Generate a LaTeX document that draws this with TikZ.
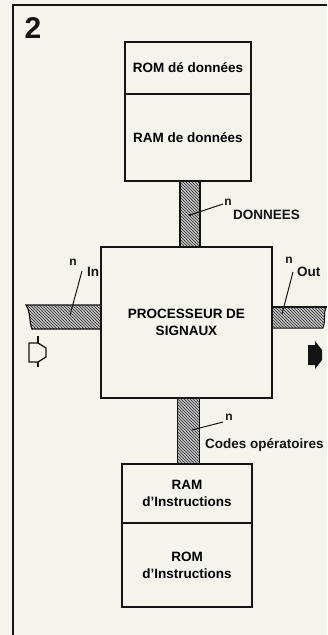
\documentclass[tikz,border=0pt]{standalone}
\usepackage{fontspec}
\setmainfont{Liberation Sans}
\usetikzlibrary{patterns}
\definecolor{paper}{RGB}{244,244,237}
\definecolor{ink}{RGB}{20,20,20}
\begin{document}
\begin{tikzpicture}[x=1pt,y=-1pt,
  blk/.style={draw=ink, line width=1.8pt, fill=paper, inner sep=0pt, align=center,
    font=\fontsize{13.5}{17}\selectfont\bfseries},
  busfill/.style={draw=ink, line width=1.2pt, preaction={fill=gray!50},
    pattern=north west lines, pattern color=black!80},
  lbl/.style={inner sep=0pt, font=\fontsize{13.5}{17}\selectfont\bfseries, text=ink},
  nlbl/.style={inner sep=0pt, font=\fontsize{12}{14}\selectfont\bfseries, text=ink},
  leader/.style={draw=ink, line width=1pt}]
\useasboundingbox (0,0) rectangle (327,635);
\fill[paper] (0,0) rectangle (327,635);
% frame
\draw[ink, line width=1.6pt] (13,635) -- (13,5) -- (327,5);
\node[font=\fontsize{30}{30}\selectfont\bfseries, text=ink, inner sep=0pt] (num) at (33,28) {2};
% vertical buses
\node[busfill, minimum width=20pt, minimum height=66pt, inner sep=0pt] (busd) at (190,214) {};
\node[busfill, minimum width=22pt, minimum height=66pt, inner sep=0pt] (busc) at (188.5,431) {};
% horizontal buses
\draw[busfill] (26,305) -- (101,305) -- (101,329) -- (32,329)
  .. controls (29,322) and (31,313) .. cycle;
\draw[busfill, draw=none] (272,307) -- (326,307) .. controls (323,314) and (326,320) .. (323,328) -- (272,328) -- cycle;
\draw[ink, line width=1pt] (326,307) .. controls (323,314) and (326,320) .. (323,328) -- (272,328);
\draw[ink, line width=1.4pt] (272,307) -- (327,307);
\coordinate (inbus) at (70,315);
\coordinate (outbus) at (282,314);
% data memory
\node[blk, minimum width=126pt, minimum height=52pt] (rom) at (188,68) {ROM dé données};
\node[blk, minimum width=126pt, minimum height=87pt] (ram) at (188,137.5) {RAM de données};
% processor
\node[blk, minimum width=171pt, minimum height=151pt] (proc) at (186.5,322.5) {PROCESSEUR DE\\SIGNAUX};
% instruction memory
\node[blk, minimum width=130pt, minimum height=59pt] (rami) at (187,493.5) {RAM\\d’Instructions};
\node[blk, minimum width=130pt, minimum height=84pt] (romi) at (187,565) {ROM\\d’Instructions};
% labels
\coordinate (dtip) at (190,215);
\coordinate (dend) at (223,204);
\draw[leader] (dtip) -- (dend);
\fill[ink] (dtip) circle (1.3pt);
\node[nlbl] (dn) at (228,202) {n};
\node[lbl, anchor=west] (dtext) at (233,215) {DONNEES};

\coordinate (ctip) at (192,430);
\coordinate (cend) at (223,422);
\draw[leader] (ctip) -- (cend);
\node[nlbl] (cn) at (229,417) {n};
\node[lbl, anchor=west] (ctext) at (205,445) {Codes opératoires};

\coordinate (iend) at (82,271);
\draw[leader] (inbus) -- (iend);
\node[nlbl] (inn) at (73,262) {n};
\node[lbl, anchor=west] (intext) at (87,272) {In};

\coordinate (oend) at (293,272);
\draw[leader] (outbus) -- (oend);
\node[nlbl] (outn) at (289,260) {n};
\node[lbl, anchor=west] (outtext) at (297,272) {Out};
% direction arrows
\draw[ink, line width=1.3pt, line join=miter] (29,343) -- (38,343) -- (46,348) -- (46,357) -- (38,362) -- (29,362) -- cycle;
\draw[ink, line width=1.3pt] (38,336) -- (38,343) (38,362) -- (38,367);
\fill[ink] (308,345) -- (315,345) -- (315,341) -- (322,350) -- (322,360) -- (315,369) -- (315,365) -- (308,365) -- cycle;
\end{tikzpicture}
\end{document}
